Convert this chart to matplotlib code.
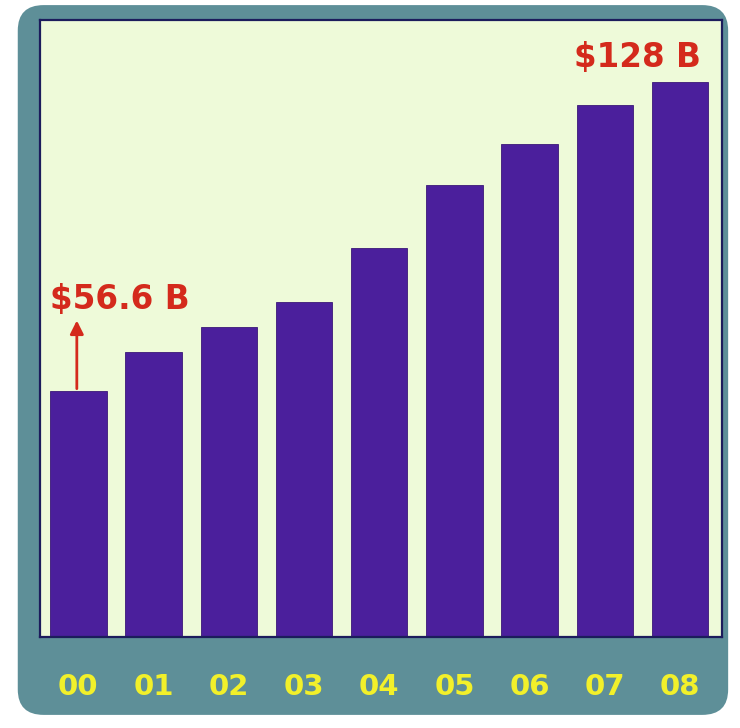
import matplotlib
matplotlib.use("Agg")
import matplotlib.pyplot as plt
from matplotlib.patches import FancyBboxPatch

years = ["00", "01", "02", "03", "04", "05", "06", "07", "08"]
values = [56.6, 65.7, 71.5, 77.3, 89.7, 104.2, 113.7, 122.7, 128.0]
label_first = "$56.6 B"
label_last = "$128 B"

fig = plt.figure(figsize=(7.40, 7.28), dpi=100)
fig.patch.set_facecolor("white")

bg = fig.add_axes([0, 0, 1, 1], zorder=-5)
bg.set_xlim(0, 1)
bg.set_ylim(0, 1)
bg.axis("off")
outer = FancyBboxPatch((0.024, 0.018), 0.960, 0.975,
                       boxstyle="round,pad=0,rounding_size=0.035",
                       facecolor="#5e8f98", edgecolor="none")
bg.add_patch(outer)

ax = fig.add_axes([0.054, 0.125, 0.922, 0.848], zorder=1)
ax.set_facecolor("#eefad9")
x = list(range(len(years)))
ax.bar(x, values, width=0.75, color="#4b1f9c", edgecolor="#3a1878", linewidth=0.6, zorder=2)
ax.set_xlim(-0.51, 8.56)
ax.set_ylim(0, 142.3)
ax.set_yticks([])
ax.set_xticks(x)
ax.set_xticklabels(years, fontsize=21, fontweight="bold", color="#f2f02a",
                   family="DejaVu Sans")
ax.tick_params(axis="x", length=0, pad=26)
for s in ax.spines.values():
    s.set_color("#1c1c5c")
    s.set_linewidth(1.6)

red = "#d42a1c"
ax.annotate("", xy=(-0.02, 73.6), xytext=(-0.02, values[0]),
            arrowprops=dict(arrowstyle="-|>,head_width=0.4,head_length=0.8",
                            color=red, lw=2), zorder=3)
ax.text(-0.37, 75.6, label_first, fontsize=23.5, fontweight="bold",
        color=red, family="DejaVu Sans", ha="left", va="baseline")
ax.text(8.27, 131.4, label_last, fontsize=23.5, fontweight="bold",
        color=red, family="DejaVu Sans", ha="right", va="baseline")

fig.savefig("out.png", dpi=100, facecolor=fig.get_facecolor())
